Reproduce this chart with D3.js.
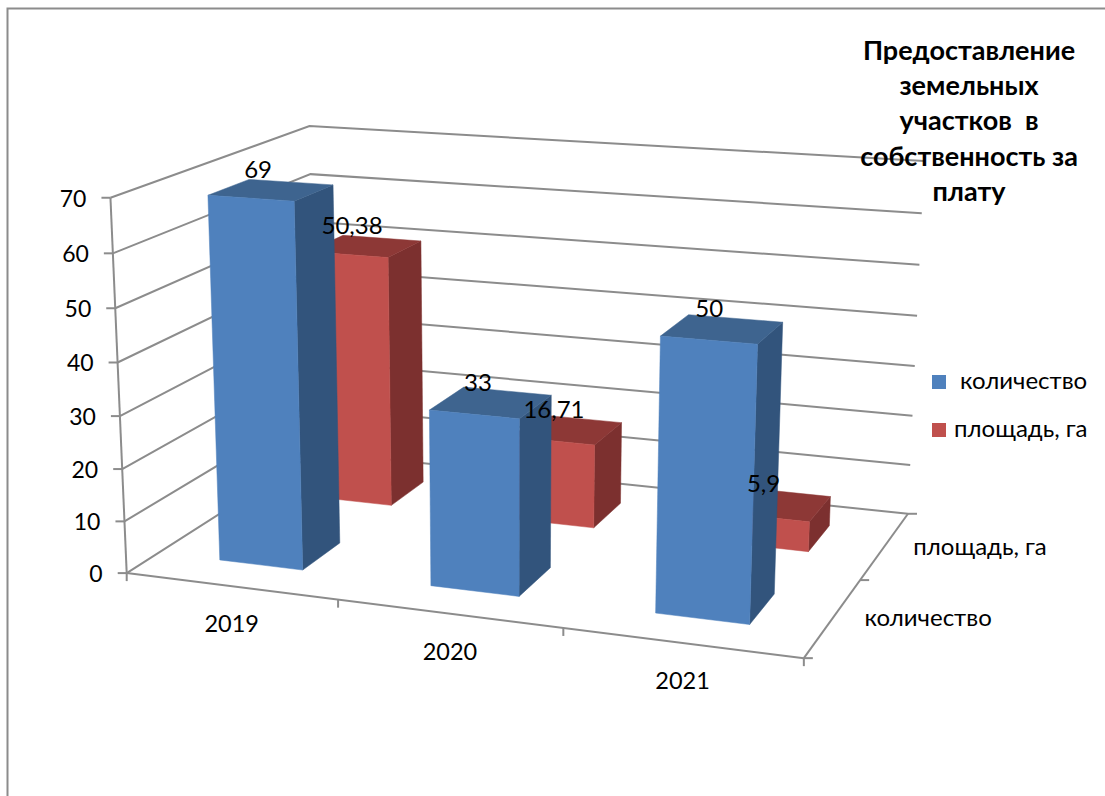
<!DOCTYPE html>
<html><head><meta charset="utf-8">
<script src="https://cdnjs.cloudflare.com/ajax/libs/d3/7.8.5/d3.min.js"></script>
<style>html,body{margin:0;padding:0;background:#fff}svg{display:block}text{font-family:Lato,"Open Sans",sans-serif;fill:#000}</style>
</head><body><div id="c"></div>
<script>
const categories=["2019","2020","2021"];
const seriesNames=["количество","площадь, га"];
const seriesCount=[69,33,50];
const seriesArea=[50.38,16.71,5.9];
const labelsCount=["69","33","50"];
const labelsArea=["50,38","16,71","5,9"];
const yTicks=[0,10,20,30,40,50,60,70];
const titleLines=["Предоставление","земельных","участков  в","собственность за","плату"];

// Calibration of the 3D box: [u,v,w] -> pixel
const cage=[
 [0,0,0,127,573],[1,0,0,804,658],[1,1,0,908,514],[0,1,0,316,452],
 [0,0,1,110,198],[0,1,1,310,126],[1,1,1,924,161]];
function solve(A,b){const n=b.length,M=A.map((r,i)=>[...r,b[i]]);
 for(let i=0;i<n;i++){let p=i;for(let r=i+1;r<n;r++)if(Math.abs(M[r][i])>Math.abs(M[p][i]))p=r;
  [M[i],M[p]]=[M[p],M[i]];
  for(let r=0;r<n;r++)if(r!==i){const f=M[r][i]/M[i][i];for(let c=i;c<=n;c++)M[r][c]-=f*M[i][c];}}
 return M.map((r,i)=>r[n]/r[i]);}
const rows=[],rhs=[];
cage.forEach(([u,v,w,x,y])=>{
 rows.push([u,v,w,1,0,0,0,0,-x*u,-x*v,-x*w]);rhs.push(x);
 rows.push([0,0,0,0,u,v,w,1,-y*u,-y*v,-y*w]);rhs.push(y);});
const AtA=d3.range(11).map(i=>d3.range(11).map(j=>d3.sum(rows,r=>r[i]*r[j])));
const Atb=d3.range(11).map(i=>d3.sum(rows,(r,k)=>r[i]*rhs[k]));
const P=solve(AtA,Atb);
function proj(u,v,w){const d=P[8]*u+P[9]*v+P[10]*w+1;
 return [(P[0]*u+P[1]*v+P[2]*w+P[3])/d,(P[4]*u+P[5]*v+P[6]*w+P[7])/d];}

const uScale=d3.scaleBand().domain(categories).range([0,1]).paddingInner(0.60).paddingOuter(0.30);
const vScale=d3.scaleBand().domain(seriesNames).range([0,1]).paddingInner(0.6).paddingOuter(0.3);
const wScale=d3.scaleLinear().domain([0,70]).range([0,1]);

const svg=d3.select("#c").append("svg").attr("width",1105).attr("height",796);
const grid="#8c8c8c";
const line=d3.line();
function seg(a,b,g){g.append("path").attr("d",line([a,b])).attr("fill","none").attr("stroke",grid).attr("stroke-width",2);}

// chart frame
svg.append("path").attr("d","M7.5,796V8.5H1105").attr("fill","none").attr("stroke","#8c8c8c").attr("stroke-width",2);

const gGrid=svg.append("g");
yTicks.forEach(t=>{const w=wScale(t);
 const a=proj(0,0,w),b=proj(0,1,w),c=proj(1,1,w);
 gGrid.append("path").attr("d",line([a,b,c])).attr("fill","none").attr("stroke",grid).attr("stroke-width",2);
 seg([a[0]-9,a[1]],a,gGrid);
});
seg(proj(0,0,0),proj(0,0,1),gGrid);
seg(proj(0,0,0),proj(1,0,0),gGrid);
seg(proj(1,0,0),proj(1,1,0),gGrid);
d3.range(0,4).forEach(i=>{const a=proj(i/3,0,0);seg(a,[a[0],a[1]+8],gGrid);});
[0,0.5,1].forEach(t=>{const a=proj(1,t,0);seg(a,[a[0]+9,a[1]],gGrid);});

const colors=[{front:"#4f81bd",side:"#32547c",top:"#3e648f"},{front:"#c0504d",side:"#7c302f",top:"#8d3836"}];
const data=[seriesCount,seriesArea];
const gBars=svg.append("g");
[1,0].forEach(si=>{
 categories.forEach((cat,ci)=>{
  const u0=uScale(cat),u1=u0+uScale.bandwidth();
  const v0=vScale(seriesNames[si]),v1=v0+vScale.bandwidth();
  const w1=wScale(data[si][ci]);
  const faces=[
   [colors[si].side,[[u1,v0,0],[u1,v1,0],[u1,v1,w1],[u1,v0,w1]]],
   [colors[si].top,[[u0,v0,w1],[u1,v0,w1],[u1,v1,w1],[u0,v1,w1]]],
   [colors[si].front,[[u0,v0,0],[u1,v0,0],[u1,v0,w1],[u0,v0,w1]]]];
  faces.forEach(([col,pts])=>gBars.append("path")
   .attr("d",line(pts.map(p=>proj(...p)))+"Z").attr("fill",col).attr("stroke",col).attr("stroke-width",0.5));
 });
});

const fs=24;
// data labels
[labelsArea,labelsCount].forEach((labs,k)=>{const si=k===0?1:0;
 categories.forEach((cat,ci)=>{
  const u=uScale(cat)+uScale.bandwidth()/2,v=vScale(seriesNames[si])+vScale.bandwidth()/2;
  const p=proj(u,v,wScale(data[si][ci]));
  svg.append("text").attr("x",p[0]-13).attr("y",p[1]-12).attr("text-anchor","middle").attr("font-size",fs).text(labs[ci]);
 });
});
// value axis labels
yTicks.forEach(t=>{const a=proj(0,0,wScale(t));
 svg.append("text").attr("x",a[0]-24).attr("y",a[1]+9).attr("text-anchor","end").attr("font-size",fs-1).text(t);});
// category labels
categories.forEach(c=>{const a=proj(uScale(c)+uScale.bandwidth()/2,0,0);
 svg.append("text").attr("x",a[0]+1).attr("y",a[1]+46).attr("text-anchor","middle").attr("font-size",fs-0.5).text(c);});
// depth labels
seriesNames.forEach(s=>{const a=proj(1,vScale(s)+vScale.bandwidth()/2,0);
 svg.append("text").attr("x",a[0]+95).attr("y",a[1]+9).attr("text-anchor","middle").attr("font-size",fs).text(s);});
// title
titleLines.forEach((t,i)=>svg.append("text").attr("x",969).attr("y",60+i*35.2).attr("text-anchor","middle")
 .attr("font-size",27).attr("font-weight",700).style("white-space","pre").text(t));
// legend
const lg=svg.append("g");
seriesNames.forEach((s,i)=>{
 const y=375+i*48;
 lg.append("rect").attr("x",932).attr("y",y).attr("width",14).attr("height",14).attr("fill",colors[i].front);
 lg.append("text").attr("x",i===0?960:954).attr("y",y+14).attr("font-size",fs).text(s);
});
</script></body></html>
